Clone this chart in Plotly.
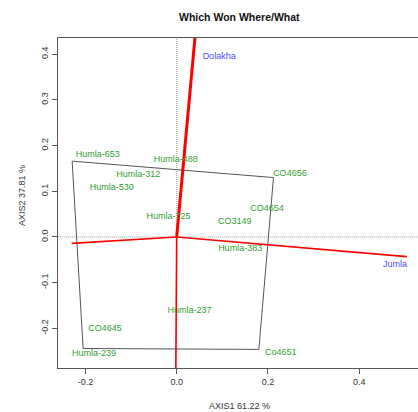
import plotly.graph_objects as go

# Genotype labels (biplot coordinates)
genotypes = ["Humla-653", "Humla-488", "Humla-312", "CO4656", "Humla-530", "CO4654",
             "Humla-725", "CO3149", "Humla-383", "Humla-237", "CO4645", "Humla-239", "Co4651"]
gen_x = [-0.173, -0.002, -0.084, 0.248, -0.142, 0.198, -0.018, 0.127, 0.139, 0.028, -0.157, -0.181, 0.228]
gen_y = [0.180, 0.168, 0.136, 0.138, 0.108, 0.062, 0.044, 0.034, -0.026, -0.162, -0.201, -0.256, -0.254]

# Environments
environments = ["Dolakha", "Jumla"]
env_x = [0.093, 0.478]
env_y = [0.395, -0.061]

# Convex hull (polygon) vertices
hull_x = [-0.229, 0.212, 0.180, -0.205, -0.229]
hull_y = [0.166, 0.130, -0.246, -0.244, 0.166]

# Perpendicular rays from origin (end points)
ray_up = ([0.0, 0.045], [0.0, 0.49])
ray_right = ([0.0, 0.504], [0.0, -0.043])
ray_left = ([0.0, -0.230], [0.0, -0.014])
ray_down = ([0.0, -0.002], [0.0, -0.30])

x_ticks = [-0.2, 0.0, 0.2, 0.4]
x_ticklabels = ["-0.2", "0.0", "0.2", "0.4"]
y_ticks = [-0.2, -0.1, 0.0, 0.1, 0.2, 0.3, 0.4]
y_ticklabels = ["-0.2", "-0.1", "0.0", "0.1", "0.2", "0.3", "0.4"]

FONT = "Liberation Sans, Arial, sans-serif"
AXC = "#555555"

# plot-area geometry in pixels
L, R, T, B = 58, 418, 38, 368
PW, PH = R - L, B - T

fig = go.Figure()

# dotted reference axes
fig.add_trace(go.Scatter(x=[0, 0], y=[-1, 1], mode="lines",
                         line=dict(color="#999999", width=1, dash="1px,1px"), hoverinfo="skip"))
fig.add_trace(go.Scatter(x=[-1, 1], y=[0, 0], mode="lines",
                         line=dict(color="#999999", width=1, dash="1px,1px"), hoverinfo="skip"))

# polygon
fig.add_trace(go.Scatter(x=hull_x, y=hull_y, mode="lines",
                         line=dict(color="#555555", width=1), hoverinfo="skip"))

# rays
fig.add_trace(go.Scatter(x=ray_right[0], y=ray_right[1], mode="lines",
                         line=dict(color="#ff0000", width=1.6), hoverinfo="skip"))
fig.add_trace(go.Scatter(x=ray_left[0], y=ray_left[1], mode="lines",
                         line=dict(color="#ff0000", width=1.6), hoverinfo="skip"))
fig.add_trace(go.Scatter(x=ray_down[0], y=ray_down[1], mode="lines",
                         line=dict(color="#ff0000", width=1.6), hoverinfo="skip"))
fig.add_trace(go.Scatter(x=ray_up[0], y=ray_up[1], mode="lines",
                         line=dict(color="#ff0000", width=3), hoverinfo="skip"))

# genotype labels
fig.add_trace(go.Scatter(x=gen_x, y=gen_y, mode="text", text=genotypes,
                         textfont=dict(family=FONT, size=9, color="#2fa02f"),
                         textposition="middle center", hoverinfo="skip"))
# environment labels
fig.add_trace(go.Scatter(x=env_x, y=env_y, mode="text", text=environments,
                         textfont=dict(family=FONT, size=9, color="#4b4bff"),
                         textposition="middle center", hoverinfo="skip"))

fig.update_layout(
    width=418, height=412,
    margin=dict(l=L, r=418 - R, t=T, b=412 - B),
    paper_bgcolor="white", plot_bgcolor="white",
    showlegend=False,
    font=dict(family=FONT, size=9, color="#333333"),
    xaxis=dict(range=[-0.260, 0.5286], tickvals=x_ticks, ticktext=x_ticklabels,
               showgrid=False, zeroline=False, showline=True, linecolor=AXC, linewidth=1,
               mirror=True, ticks="outside", ticklen=5, tickcolor=AXC,
               tickfont=dict(family=FONT, size=9, color="#333333")),
    yaxis=dict(range=[-0.2867, 0.4354], tickvals=y_ticks, ticktext=y_ticklabels,
               showgrid=False, zeroline=False, showline=True, linecolor=AXC, linewidth=1,
               mirror=False, ticks="outside", ticklen=5, tickcolor=AXC, tickangle=-90,
               tickfont=dict(family=FONT, size=9, color="#333333")),
)

fig.add_annotation(text="<b>Which Won Where/What</b>", x=(239 - L) / PW, y=(B - 17) / PH,
                   xref="paper", yref="paper", xanchor="center", yanchor="middle",
                   showarrow=False, font=dict(family=FONT, size=10.5, color="#111111"))
fig.add_annotation(text="AXIS1 61.22 %", x=(239 - L) / PW, y=-(405.7 - B) / PH,
                   xref="paper", yref="paper", xanchor="center", yanchor="middle",
                   showarrow=False, font=dict(family=FONT, size=9, color="#333333"))
fig.add_annotation(text="AXIS2 37.81 %", x=-(L - 22) / PW, y=(B - 196) / PH,
                   xref="paper", yref="paper", xanchor="center", yanchor="middle",
                   textangle=-90, showarrow=False, font=dict(family=FONT, size=9, color="#333333"))

fig.write_html("out.html", config={"displayModeBar": False},
               post_script="document.body.style.margin='0';document.body.style.padding='0';")
